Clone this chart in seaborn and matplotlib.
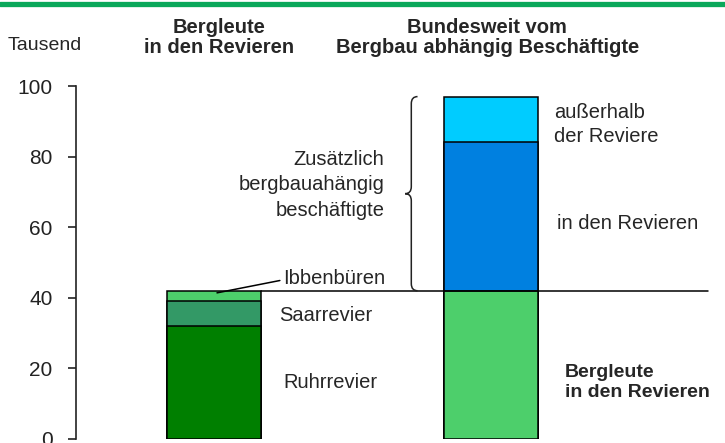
import matplotlib
matplotlib.use("Agg")
import matplotlib.pyplot as plt
import matplotlib.patches as mpatches
from matplotlib.path import Path
import seaborn as sns

# data (Tausend)
cats = ["Bergleute in den Revieren", "Bundesweit vom Bergbau abhängig Beschäftigte"]
left_labels = ["Ruhrrevier", "Saarrevier", "Ibbenbüren"]
left_vals = [32, 7, 3]
right_labels = ["Bergleute\nin den Revieren", "in den Revieren", "außerhalb\nder Reviere"]
right_vals = [42, 42, 13]
left_colors = ["#007f00", "#339966", "#4dcf6b"]
right_colors = ["#4dcf6b", "#0080e0", "#00ccff"]
yticks = [0, 20, 40, 60, 80, 100]

sns.set_style("white")
plt.rcParams["font.family"] = ["Liberation Sans", "DejaVu Sans"]

fig = plt.figure(figsize=(7.25, 4.43), dpi=100)
ax = fig.add_axes([76 / 725, 4 / 443, 1 - 76 / 725, 353 / 443])

# stacked bars: draw cumulative totals from the top layer down
cum_left = [sum(left_vals[:i + 1]) for i in range(3)]
cum_right = [sum(right_vals[:i + 1]) for i in range(3)]
bw = 0.34
for i in range(2, -1, -1):
    sns.barplot(x=cats, y=[cum_left[i], cum_right[i]], hue=cats,
                palette=[left_colors[i], right_colors[i]], legend=False,
                width=bw, edgecolor="black", linewidth=1.1, saturation=1, ax=ax)

ax.set_xlim(-0.498, 1.845)
ax.set_ylim(0, 100)
ax.set_yticks(yticks)
ax.set_xticks([])
ax.set_xlabel("")
ax.set_ylabel("")
for s in ["top", "right", "bottom"]:
    ax.spines[s].set_visible(False)
ax.spines["left"].set_color("#222222")
ax.spines["left"].set_linewidth(1.2)
ax.tick_params(axis="y", left=True, length=6, width=1.2, color="#222222",
               labelsize=15, pad=11, labelcolor="#222222")

# horizontal line at Bergleute total
total_left = sum(left_vals)
ax.plot([bw / 2, 1.785], [total_left, total_left], color="black", lw=1.1, zorder=5)

# segment labels
ax.text(0.249, 16, left_labels[0], fontsize=14.5, va="center", ha="left")
ax.text(0.234, 35, left_labels[1], fontsize=14.5, va="center", ha="left")
ax.text(0.249, 45.5, left_labels[2], fontsize=14.5, va="center", ha="left")
ax.plot([0.011, 0.238], [41.4, 44.9], color="black", lw=1.1, zorder=6)

ax.text(1.229, 89, right_labels[2], fontsize=14.5, va="center", ha="left",
        linespacing=1.35)
ax.text(1.24, 61, right_labels[1], fontsize=14.5, va="center", ha="left")
ax.text(1.268, 16, right_labels[0], fontsize=14, va="center", ha="left",
        fontweight="bold", linespacing=1.3)

ax.text(0.616, 72, "Zusätzlich\nbergbauahängig\nbeschäftigte", fontsize=14.5,
        va="center", ha="right", linespacing=1.45)

# curly brace spanning the extra employment
top = sum(right_vals)
bot = total_left
mid = (top + bot) / 2
x0, w, r = 0.69, 0.045, 2.0
xm = x0 + w / 2
verts = [(x0 + w, top), (xm, top), (xm, top - r),
         (xm, mid + r),
         (xm, mid), (x0, mid), (x0, mid),
         (xm, mid), (xm, mid - r),
         (xm, bot + r),
         (xm, bot), (x0 + w, bot), (x0 + w, bot)]
codes = [Path.MOVETO, Path.CURVE3, Path.CURVE3,
         Path.LINETO,
         Path.CURVE3, Path.CURVE3, Path.MOVETO,
         Path.CURVE3, Path.CURVE3,
         Path.LINETO,
         Path.CURVE3, Path.CURVE3, Path.LINETO]
ax.add_patch(mpatches.PathPatch(Path(verts, codes), fill=False, lw=1.1,
                                color="#222222", zorder=5))

# headers
fig.text(0.302, 0.915, "Bergleute\nin den Revieren", ha="center", va="center",
         fontsize=14.5, fontweight="bold", linespacing=1.05)
fig.text(0.672, 0.915, "Bundesweit vom\nBergbau abhängig Beschäftigte", ha="center",
         va="center", fontsize=14.5, fontweight="bold", linespacing=1.05)
fig.text(0.062, 0.898, "Tausend", ha="center", va="center", fontsize=14)

# green rule at the top
fig.add_artist(plt.Line2D([0, 1], [1 - 3.5 / 443, 1 - 3.5 / 443],
                          color="#0aa85a", lw=3.8, transform=fig.transFigure))

fig.savefig("out.png", dpi=100)
